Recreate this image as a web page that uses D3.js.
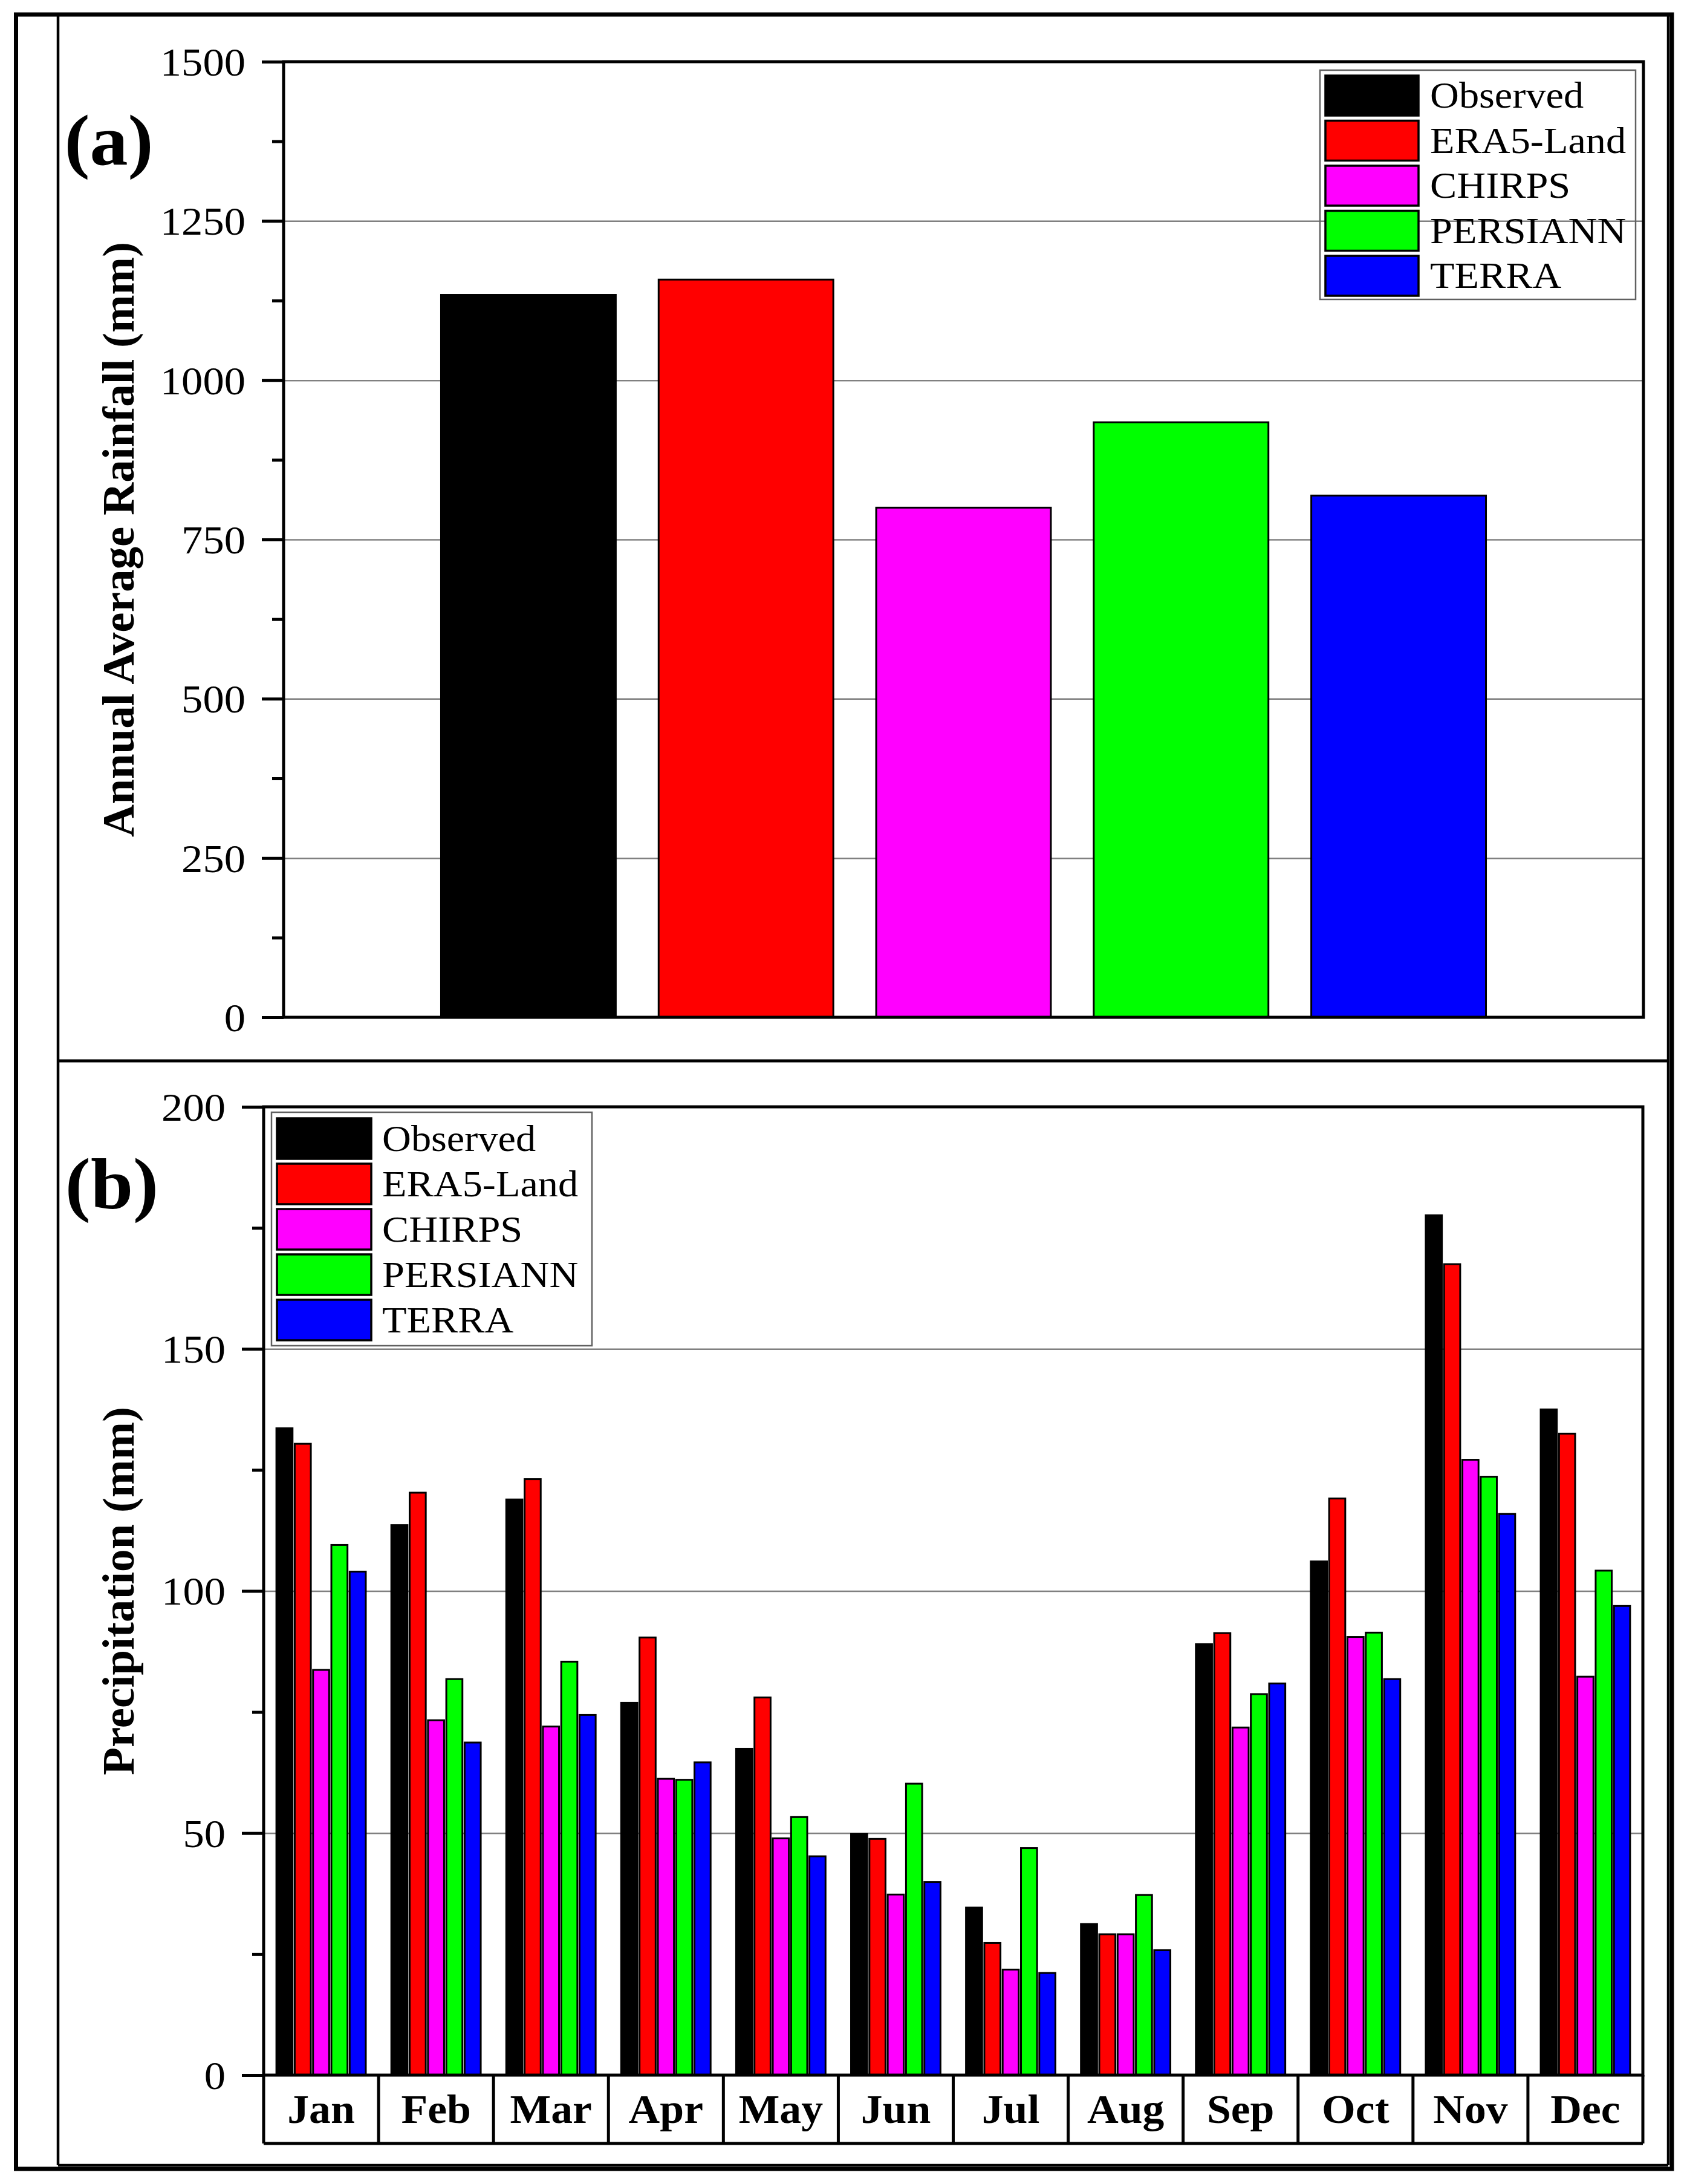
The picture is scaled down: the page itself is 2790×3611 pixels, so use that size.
<!DOCTYPE html>
<html><head><meta charset="utf-8">
<script src="https://cdn.jsdelivr.net/npm/d3@7"></script>
<style>html,body{margin:0;padding:0;background:#fff;} svg{display:block;}</style>
</head><body>
<svg id="chart" width="2790" height="3611"></svg>
<script>
// ---------------- DATA ----------------
const seriesNames = ["Observed", "ERA5-Land", "CHIRPS", "PERSIANN", "TERRA"];
const seriesColors = ["#000000", "#FF0000", "#FF00FF", "#00FF00", "#0000FF"];

// (a) annual average rainfall (mm)
const annualValues = [1134, 1158, 800, 934, 819];
const annualTicks = [0, 250, 500, 750, 1000, 1250, 1500];

// (b) monthly precipitation (mm)
const months = ["Jan", "Feb", "Mar", "Apr", "May", "Jun", "Jul", "Aug", "Sep", "Oct", "Nov", "Dec"];
const observed = [133.6, 113.6, 118.9, 76.9, 67.4, 49.8, 34.6, 31.2, 89.0, 106.1, 177.6, 137.5];
const era5Land = [130.4, 120.3, 123.1, 90.4, 78.0, 48.8, 27.3, 29.1, 91.3, 119.1, 167.5, 132.5];
const chirps   = [83.7, 73.3, 72.0, 61.2, 48.9, 37.3, 21.8, 29.1, 71.8, 90.5, 127.1, 82.3];
const persiann = [109.5, 81.8, 85.4, 61.0, 53.3, 60.2, 46.9, 37.2, 78.7, 91.4, 123.6, 104.2];
const terra    = [104.0, 68.7, 74.4, 64.6, 45.2, 39.9, 21.1, 25.8, 80.9, 81.8, 115.9, 96.9];
const monthlyTicks = [0, 50, 100, 150, 200];

// ---------------- SETUP ----------------
const FONT = "'Liberation Serif','Times New Roman',Times,serif";
const SX = 1.07; // slight horizontal stretch of the reference text
const svg = d3.select("#chart");
svg.append("rect").attr("width", 2790).attr("height", 3611).attr("fill", "#fff");

function hText(parent, x, y, txt, size, weight, anchor) {
  return parent.append("text")
    .attr("transform", `translate(${x},${y}) scale(${SX},1)`)
    .attr("font-family", FONT).attr("font-size", size)
    .attr("font-weight", weight || "normal")
    .attr("text-anchor", anchor || "start")
    .attr("fill", "#000").text(txt);
}

function yGrid(g, scale, left, gridTicks, width) {
  g.append("g").attr("transform", `translate(${left},0)`)
    .call(d3.axisLeft(scale).tickValues(gridTicks).tickSize(-width).tickFormat(""))
    .call(s => s.select(".domain").remove())
    .call(s => s.selectAll("line").attr("stroke", "#808080").attr("stroke-width", 2.5));
}
function yAxisTicks(g, scale, left, majorTicks, minorTicks) {
  g.append("g").attr("transform", `translate(${left},0)`)
    .call(d3.axisLeft(scale).tickValues(minorTicks).tickSize(19).tickSizeOuter(0).tickFormat(""))
    .call(s => s.select(".domain").remove())
    .call(s => s.selectAll("line").attr("stroke", "#000").attr("stroke-width", 5));
  const ax = g.append("g").attr("transform", `translate(${left},0)`)
    .call(d3.axisLeft(scale).tickValues(majorTicks).tickSize(36).tickSizeOuter(0).tickPadding(27).tickFormat(d3.format("d")));
  ax.select(".domain").remove();
  ax.selectAll("line").attr("stroke", "#000").attr("stroke-width", 5);
  ax.selectAll("text")
    .attr("font-family", FONT).attr("font-size", 66).attr("fill", "#000")
    .attr("x", -63 / SX).attr("dy", "0.34em")
    .attr("transform", `scale(${SX},1)`);
}

function legend(g, x, y, w, h, sx, sy, sw, sh, pitch, tx, fs) {
  g.append("rect").attr("x", x).attr("y", y).attr("width", w).attr("height", h)
    .attr("fill", "none").attr("stroke", "#606060").attr("stroke-width", 2.5);
  seriesNames.forEach((n, i) => {
    g.append("rect").attr("x", sx).attr("y", sy + i * pitch).attr("width", sw).attr("height", sh)
      .attr("fill", seriesColors[i]).attr("stroke", "#000").attr("stroke-width", 3.5);
    hText(g, tx, sy + i * pitch + sh / 2 + fs * 0.33, n, fs, "normal", "start");
  });
}

// ---------------- OUTER FRAMES ----------------
const frame = svg.append("g");
frame.append("rect").attr("x", 26.5).attr("y", 24).attr("width", 2738.5).attr("height", 3562)
  .attr("fill", "none").attr("stroke", "#000").attr("stroke-width", 7);
frame.append("line").attr("x1", 96).attr("x2", 96).attr("y1", 24).attr("y2", 3580).attr("stroke", "#000").attr("stroke-width", 4.5);
frame.append("line").attr("x1", 2759).attr("x2", 2759).attr("y1", 24).attr("y2", 3580).attr("stroke", "#000").attr("stroke-width", 4.5);
frame.append("line").attr("x1", 96).attr("x2", 2759).attr("y1", 3580).attr("y2", 3580).attr("stroke", "#000").attr("stroke-width", 4.5);
frame.append("line").attr("x1", 96).attr("x2", 2759).attr("y1", 1754).attr("y2", 1754).attr("stroke", "#000").attr("stroke-width", 5);

// ---------------- PANEL (a) ----------------
const A = { l: 469, r: 2718, t: 102, b: 1682 };
const gA = svg.append("g");
const yA = d3.scaleLinear().domain([0, 1500]).range([A.b, A.t]);
const xA = d3.scaleBand().domain(seriesNames).range([A.l, A.r]).paddingInner(0.197).paddingOuter(0.724);

yGrid(gA, yA, A.l, annualTicks.slice(1, -1), A.r - A.l);

gA.append("g").selectAll("rect").data(annualValues).join("rect")
  .attr("x", (d, i) => xA(seriesNames[i]))
  .attr("y", d => yA(d))
  .attr("width", xA.bandwidth())
  .attr("height", d => yA(0) - yA(d))
  .attr("fill", (d, i) => seriesColors[i])
  .attr("stroke", "#000").attr("stroke-width", 3);

gA.append("rect").attr("x", A.l).attr("y", A.t).attr("width", A.r - A.l).attr("height", A.b - A.t)
  .attr("fill", "none").attr("stroke", "#000").attr("stroke-width", 5);
yAxisTicks(gA, yA, A.l, annualTicks, d3.range(125, 1500, 250));

legend(gA, 2183, 116, 522, 379, 2192, 125, 154, 66, 74.5, 2365, 62);

hText(gA, 180, 272, "(a)", 118, "bold", "middle");
gA.append("text")
  .attr("transform", `translate(221,${(A.t + A.b) / 2}) rotate(-90)`)
  .attr("font-family", FONT).attr("font-size", 75).attr("font-weight", "bold")
  .attr("text-anchor", "middle").text("Annual Average Rainfall (mm)");

// ---------------- PANEL (b) ----------------
const B = { l: 436, r: 2717, t: 1830, b: 3431, lab: 3544 };
const gB = svg.append("g");
const yB = d3.scaleLinear().domain([0, 200]).range([B.b, B.t]);
const x0 = d3.scaleBand().domain(months).range([B.l, B.r]).padding(0);
const x1 = d3.scaleBand().domain(seriesNames).range([0, x0.bandwidth()]).paddingInner(0.12).paddingOuter(0.697);
const seriesArrays = [observed, era5Land, chirps, persiann, terra];
const monthly = months.map((m, i) => ({ month: m, values: seriesArrays.map((arr, k) => ({ name: seriesNames[k], color: seriesColors[k], v: arr[i] })) }));

yGrid(gB, yB, B.l, monthlyTicks.slice(1, -1), B.r - B.l);

gB.append("g").selectAll("g").data(monthly).join("g")
  .attr("transform", d => `translate(${x0(d.month)},0)`)
  .selectAll("rect").data(d => d.values).join("rect")
  .attr("x", d => x1(d.name))
  .attr("y", d => yB(d.v))
  .attr("width", x1.bandwidth())
  .attr("height", d => yB(0) - yB(d.v))
  .attr("fill", d => d.color)
  .attr("stroke", "#000").attr("stroke-width", 3);

gB.append("rect").attr("x", B.l).attr("y", B.t).attr("width", B.r - B.l).attr("height", B.b - B.t)
  .attr("fill", "none").attr("stroke", "#000").attr("stroke-width", 5);
yAxisTicks(gB, yB, B.l, monthlyTicks, d3.range(25, 200, 50));

// month label boxes
const bounds = months.map(m => x0(m)).concat([x0.range()[1]]);
gB.append("g").selectAll("line").data(bounds).join("line")
  .attr("x1", d => d).attr("x2", d => d).attr("y1", B.b).attr("y2", B.lab)
  .attr("stroke", "#000").attr("stroke-width", 5);
gB.append("line").attr("x1", B.l).attr("x2", B.r).attr("y1", B.lab).attr("y2", B.lab)
  .attr("stroke", "#000").attr("stroke-width", 5);
const xAx = gB.append("g").attr("transform", `translate(0,${B.b})`)
  .call(d3.axisBottom(x0).tickSize(0).tickPadding(0));
xAx.select(".domain").remove();
xAx.selectAll("text")
  .attr("font-family", FONT).attr("font-size", 67).attr("font-weight", "bold").attr("fill", "#000")
  .attr("y", 79).attr("dy", 0)
  .attr("transform", `scale(${SX},1)`);

legend(gB, 449, 1839, 530, 386, 458, 1849, 156, 67, 75, 632, 62);

hText(gB, 185, 1997, "(b)", 118, "bold", "middle");
gB.append("text")
  .attr("transform", `translate(221,${(B.t + B.b) / 2}) rotate(-90)`)
  .attr("font-family", FONT).attr("font-size", 75).attr("font-weight", "bold")
  .attr("text-anchor", "middle").text("Precipitation (mm)");
</script>
</body></html>
